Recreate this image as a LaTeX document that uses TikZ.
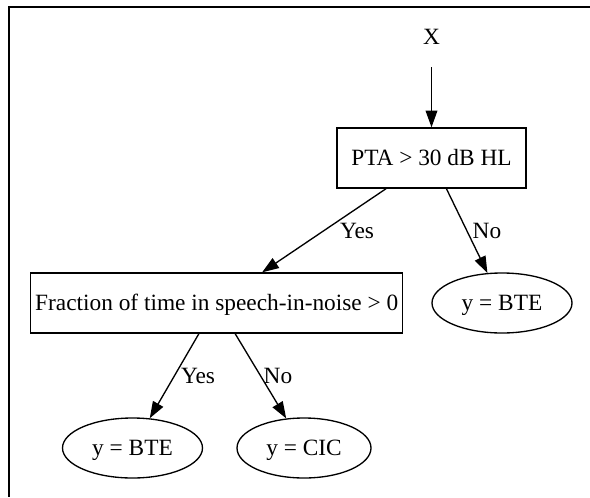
\documentclass[tikz,border=0pt]{standalone}
\usepackage{fontspec}
\setmainfont{Liberation Serif}
\usetikzlibrary{arrows.meta,shapes.geometric}
\begin{document}
\begin{tikzpicture}[x=0.6pt,y=-0.6pt,
  every node/.style={font=\fontsize{14}{16.8}\selectfont, inner sep=0pt, text height=9.3pt, text depth=0pt},
  boxnode/.style={draw, line width=0.8pt, rectangle, minimum height=36pt},
  ovalnode/.style={draw, line width=0.8pt, ellipse, minimum height=36pt},
  plainnode/.style={minimum height=36pt, minimum width=20pt},
  lbl/.style={},
  edge/.style={line width=0.8pt, -{Triangle[length=10pt,width=7pt]}},
  frameline/.style={line width=1.2pt}]
\useasboundingbox (0,0) rectangle (590,497);
% frame
\coordinate (fa) at (590,7);
\coordinate (fb) at (8.5,7);
\coordinate (fc) at (8.5,497);
\draw[frameline] (fa) -- (fb) -- (fc);
% nodes
\node[plainnode] (x) at (431.5,37) {X};
\node[boxnode, minimum width=113.4pt] (pta) at (431.5,158) {PTA > 30 dB HL};
\node[boxnode, minimum width=223.2pt] (frac) at (216.7,303) {Fraction of time in speech-in-noise > 0};
\node[ovalnode, minimum width=84pt] (bte1) at (502,303) {y = BTE};
\node[ovalnode, minimum width=84pt] (bte2) at (132.5,448) {y = BTE};
\node[ovalnode, minimum width=80.4pt] (cic) at (304,448) {y = CIC};
% edges
\draw[edge] (x) -- (pta);
\draw[edge] (pta) -- (frac);
\draw[edge] (pta) -- (bte1);
\draw[edge] (frac) -- (bte2);
\draw[edge] (frac) -- (cic);
% edge labels
\node[lbl] (l1) at (357,231) {Yes};
\node[lbl] (l2) at (487,231) {No};
\node[lbl] (l3) at (198,376) {Yes};
\node[lbl] (l4) at (278,376) {No};
\end{tikzpicture}
\end{document}
